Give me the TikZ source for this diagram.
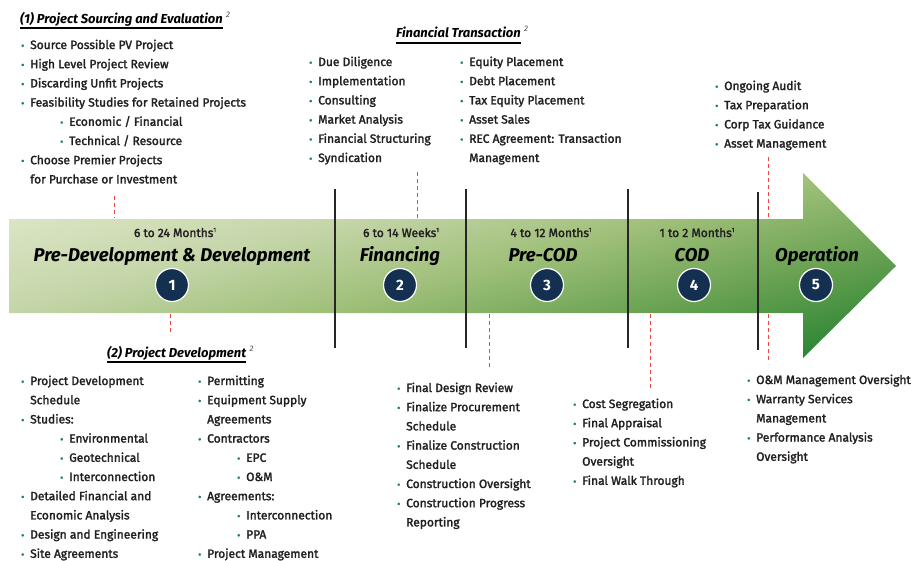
\documentclass[tikz,border=0pt]{standalone}
\usepackage{fontspec}
\setmainfont{Fira Sans}[UprightFeatures={FakeBold=2}]
\usetikzlibrary{positioning}
\definecolor{navyblue}{RGB}{20,48,80}
\definecolor{dotteal}{RGB}{28,122,112}
\definecolor{dashred}{RGB}{238,72,64}
\definecolor{arrowlight}{RGB}{218,229,196}
\definecolor{arrowpale}{RGB}{198,214,170}
\definecolor{arrowmid}{RGB}{160,192,122}
\definecolor{arrowdeep}{RGB}{105,162,82}
\definecolor{arrowdark}{RGB}{44,134,54}
\definecolor{inkblack}{RGB}{35,31,32}
% arrow fill: light at top, dark at bottom; the arrow uses 40bp..59bp of it
\pgfdeclareverticalshading{arrowfill}{100bp}{color(0bp)=(arrowdark);
  color(40bp)=(arrowdark); color(44.75bp)=(arrowdeep); color(49.47bp)=(arrowmid);
  color(54.19bp)=(arrowpale); color(58.92bp)=(arrowlight); color(100bp)=(arrowlight)}

\newcommand{\itm}{\makebox[9pt][l]{\color{dotteal}\scalebox{0.8}{\textbullet}}}
\newcommand{\sitm}{\hspace*{39pt}\itm}
\newcommand{\cnt}{\hspace*{9pt}}
\newcommand{\fnote}[1]{{\fontsize{6}{6}\selectfont\raisebox{5pt}{#1}}}

\begin{document}
\begin{tikzpicture}[x=1pt, y=-1pt,
  list/.style={anchor=base west, align=left, inner sep=0pt, text=inkblack,
    font=\fontsize{12}{19.2}\selectfont},
  head/.style={anchor=base west, inner sep=0pt, text=black,
    font=\fontsize{13}{15}\selectfont\bfseries\itshape},
  supnote/.style={anchor=base west, inner sep=0pt, text=black!70,
    font=\fontsize{8}{9}\selectfont\itshape},
  stepnum/.style={circle, fill=navyblue, draw=white, line width=1.2pt,
    minimum size=33pt, inner sep=0pt, text=white,
    font=\fontsize{15}{17}\selectfont\bfseries},
  phase/.style={anchor=base, inner sep=0pt, text=black,
    font=\fontsize{18.5}{21}\selectfont\bfseries\itshape},
  dur/.style={anchor=base, inner sep=0pt, text=inkblack,
    font=\fontsize{12}{14}\selectfont},
  divider/.style={line width=1.8pt, black!85},
  guide/.style={dashred, line width=0.8pt, dash pattern=on 4pt off 3pt}]

\useasboundingbox (0,0) rectangle (917,560);

% timeline arrow (square shade so the angle is not stretched)
\begin{scope}
  \clip (9,219) -- (803,219) -- (803,173) -- (896,266) -- (803,358)
    -- (803,313) -- (9,313) -- cycle;
  \shade[shading=arrowfill, shading angle=15] (2,-184) rectangle (902,716);
\end{scope}

% phase dividers
\coordinate (d1a) at (335,189); \coordinate (d1b) at (335,348);
\coordinate (d2a) at (466,189); \coordinate (d2b) at (466,348);
\coordinate (d3a) at (628,189); \coordinate (d3b) at (628,348);
\coordinate (d4a) at (758,192); \coordinate (d4b) at (758,350);
\draw[divider] (d1a) -- (d1b);
\draw[divider] (d2a) -- (d2b);
\draw[divider] (d3a) -- (d3b);
\draw[divider] (d4a) -- (d4b);

% durations, phase names and step numbers
\node[dur] (t1) at (175,237) {6 to 24 Months\fnote{1}};
\node[dur] (t2) at (401,237) {6 to 14 Weeks\fnote{1}};
\node[dur] (t3) at (551,237) {4 to 12 Months\fnote{1}};
\node[dur] (t4) at (697,237) {1 to 2 Months\fnote{1}};

\node[phase] (p1) at (172,261) {Pre-Development \& Development};
\node[phase] (p2) at (400,261) {Financing};
\node[phase] (p3) at (543,261) {Pre-COD};
\node[phase] (p4) at (692,261) {COD};
\node[phase] (p5) at (817,261) {Operation};

\node[stepnum] (s1) at (172,285) {1};
\node[stepnum] (s2) at (400,285) {2};
\node[stepnum] (s3) at (547,285) {3};
\node[stepnum] (s4) at (694,285) {4};
\node[stepnum] (s5) at (816,285) {5};

% guide marks between lists and arrow
\coordinate (g1a) at (114,196); \coordinate (g1b) at (114,218);
\coordinate (g2a) at (170,314); \coordinate (g2b) at (170,335);
\coordinate (g3a) at (417,172); \coordinate (g3b) at (417,218);
\coordinate (g4a) at (489,314); \coordinate (g4b) at (489,367);
\coordinate (g5a) at (650,314); \coordinate (g5b) at (650,388);
\coordinate (g6a) at (768,157); \coordinate (g6b) at (768,218);
\coordinate (g7a) at (768,314); \coordinate (g7b) at (768,362);
\foreach \a/\b in {g1a/g1b, g2a/g2b, g3a/g3b, g4a/g4b, g5a/g5b, g6a/g6b, g7a/g7b}
  \draw[guide] (\a) -- (\b);

% lists: the base of a list node is its last line
% sourcing and evaluation
\node[head] (h1) at (20,23) {(1) Project Sourcing and Evaluation};
\node[supnote] (h1n) at ([xshift=3pt, yshift=6pt]h1.base east) {2};
\draw[line width=1.4pt] ([yshift=-5pt]h1.base west) -- ([yshift=-5pt]h1.base east);
\node[list] (l1) at (21,{49+7*19.2}) {\itm Source Possible PV Project\\
  \itm High Level Project Review\\
  \itm Discarding Unfit Projects\\
  \itm Feasibility Studies for Retained Projects\\
  \sitm Economic / Financial\\
  \sitm Technical / Resource\\
  \itm Choose Premier Projects\\
  \cnt for Purchase or Investment};

% financial transaction
\node[head] (h2) at (396,37) {Financial Transaction};
\node[supnote] (h2n) at ([xshift=3pt, yshift=6pt]h2.base east) {2};
\draw[line width=1.4pt] ([yshift=-6pt]h2.base west) -- ([yshift=-6pt]h2.base east);
\node[list] (l2) at (309,{66+5*19.2}) {\itm Due Diligence\\
  \itm Implementation\\
  \itm Consulting\\
  \itm Market Analysis\\
  \itm Financial Structuring\\
  \itm Syndication};
\node[list] (l3) at (460,{66+5*19.2}) {\itm Equity Placement\\
  \itm Debt Placement\\
  \itm Tax Equity Placement\\
  \itm Asset Sales\\
  \itm REC Agreement: Transaction\\
  \cnt Management};

% operation (top)
\node[list] (l4) at (715,{90+3*19.2}) {\itm Ongoing Audit\\
  \itm Tax Preparation\\
  \itm Corp Tax Guidance\\
  \itm Asset Management};

% project development
\node[head] (h3) at (107,357) {(2) Project Development};
\node[supnote] (h3n) at ([xshift=3pt, yshift=6pt]h3.base east) {2};
\draw[line width=1.4pt] ([yshift=-5pt]h3.base west) -- ([yshift=-5pt]h3.base east);
\node[list] (l5) at (21,{385+9*19.2}) {\itm Project Development\\
  \cnt Schedule\\
  \itm Studies:\\
  \sitm Environmental\\
  \sitm Geotechnical\\
  \sitm Interconnection\\
  \itm Detailed Financial and\\
  \cnt Economic Analysis\\
  \itm Design and Engineering\\
  \itm Site Agreements};
\node[list] (l6) at (198,{385+9*19.2}) {\itm Permitting\\
  \itm Equipment Supply\\
  \cnt Agreements\\
  \itm Contractors\\
  \sitm EPC\\
  \sitm O\&M\\
  \itm Agreements:\\
  \sitm Interconnection\\
  \sitm PPA\\
  \itm Project Management};

% pre-cod
\node[list] (l7) at (397,{392+7*19.2}) {\itm Final Design Review\\
  \itm Finalize Procurement\\
  \cnt Schedule\\
  \itm Finalize Construction\\
  \cnt Schedule\\
  \itm Construction Oversight\\
  \itm Construction Progress\\
  \cnt Reporting};

% cod
\node[list] (l8) at (573,{408+4*19.2}) {\itm Cost Segregation\\
  \itm Final Appraisal\\
  \itm Project Commissioning\\
  \cnt Oversight\\
  \itm Final Walk Through};

% operation (bottom)
\node[list] (l9) at (747,{384+4*19.2}) {\itm O\&M Management Oversight\\
  \itm Warranty Services\\
  \cnt Management\\
  \itm Performance Analysis\\
  \cnt Oversight};
\end{tikzpicture}
\end{document}
